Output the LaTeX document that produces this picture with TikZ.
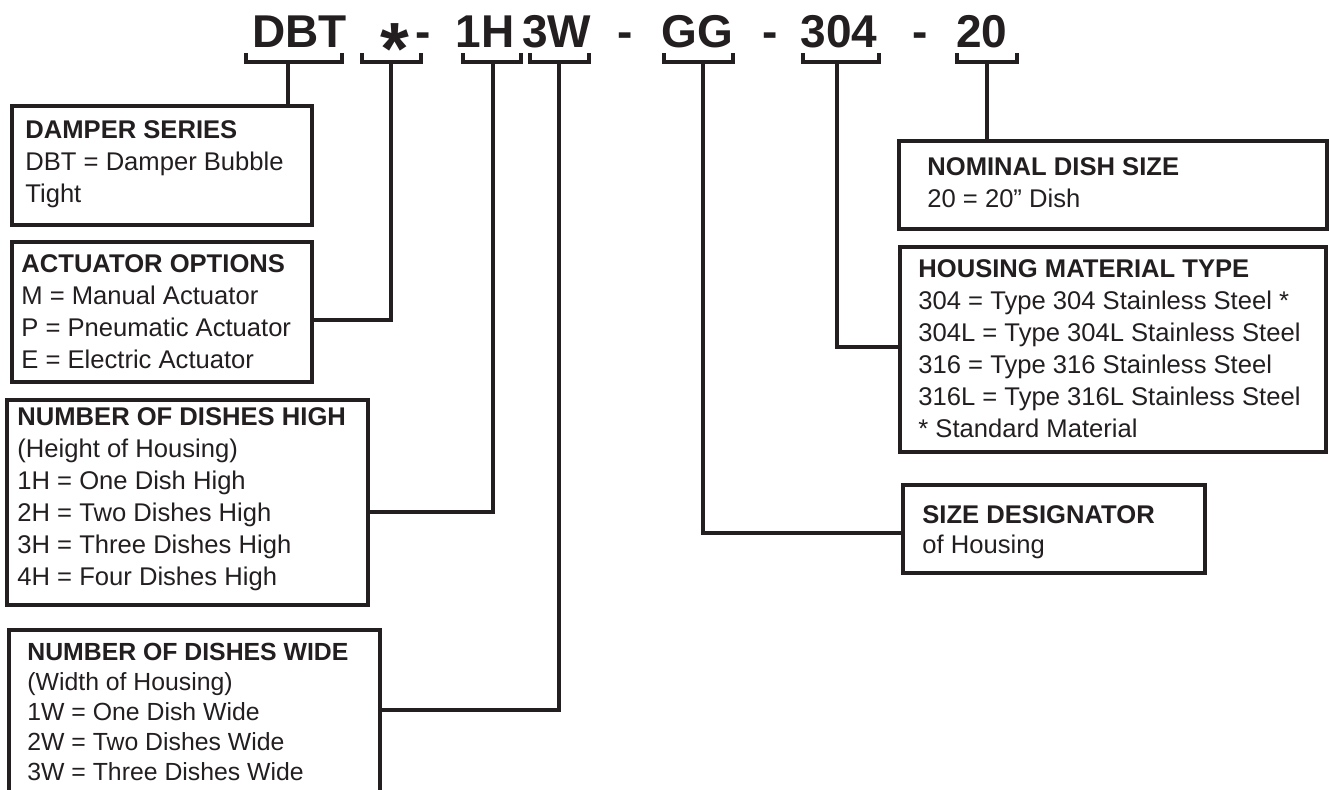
\documentclass[tikz,border=0pt]{standalone}
\usepackage{fontspec}
\setmainfont{Liberation Sans}
\definecolor{ink}{HTML}{231F20}
\tikzset{
  code/.style={font=\bfseries\fontsize{23}{23}\selectfont, text=ink, inner sep=0pt, anchor=base},
  clamp/.style={draw=ink, line width=2.3pt},
  link/.style={draw=ink, line width=2pt},
  panel/.style={draw=ink, line width=2.4pt, inner sep=0pt, outer sep=0pt, anchor=north west},
  entry/.style={font=\fontsize{12.8}{16}\selectfont, text=ink, align=left, inner sep=0pt, anchor=base west},
}
\begin{document}
\begin{tikzpicture}[x=0.5pt,y=-0.5pt]
        \clip (0,0) rectangle (1330,789);
        % model code
        \node[code] (cDBT) at (299.5,47) {DBT};
        \node[code, font=\bfseries\fontsize{37}{37}\selectfont] (cStar) at (394.5,74) {*};
        \node[code] (d1) at (423.5,47) {-};
        \node[code] (c1H) at (485,47) {1H};
        \node[code] (c3W) at (556.5,47) {3W};
        \node[code] (d2) at (625,47) {-};
        \node[code] (cGG) at (697,47) {GG};
        \node[code] (d3) at (770,47) {-};
        \node[code] (c304) at (839,47) {304};
        \node[code] (d4) at (920,47) {-};
        \node[code] (c20) at (982,47) {20};
        \foreach \lft/\rgt/\mid/\nm in {246/342/288/DBT,362/421/391/Star,463/521/493/1H,530/589/559/3W,664/733/703/GG,803/879/837/304,957/1017/987/20} {
            \draw[clamp] (\lft,53) -- (\lft,62) -- (\rgt,62) -- (\rgt,53);
            \coordinate (b\nm) at (\mid,62);
          }
        % left column (text nodes sit on their last baseline)
        \node[panel, minimum width=150pt, minimum height=59.5pt] (damper) at (12,106) {};
        \node[entry] (damperTxt) at ([shift={(6.5pt,-48pt)}]damper.north west) {\textbf{DAMPER SERIES}\\DBT = Damper Bubble\\Tight};
        \node[panel, minimum width=150pt, minimum height=70pt] (act) at (12,242) {};
        \node[entry] (actTxt) at ([shift={(4.5pt,-63pt)}]act.north west) {\textbf{ACTUATOR OPTIONS}\\M = Manual Actuator\\P = Pneumatic Actuator\\E = Electric Actuator};
        \node[panel, minimum width=180.5pt, minimum height=102.5pt] (high) at (7,400) {};
        \node[entry] (highTxt) at ([shift={(5pt,-92.5pt)}]high.north west) {\textbf{NUMBER OF DISHES HIGH}\\(Height of Housing)\\1H = One Dish High\\2H = Two Dishes High\\3H = Three Dishes High\\4H = Four Dishes High};
        \node[panel, minimum width=185.5pt, minimum height=100pt] (wide) at (9,630) {};
        \node[entry, font=\fontsize{12.4}{14.9}\selectfont] (wideTxt) at ([shift={(9pt,-75pt)}]wide.north west) {\textbf{NUMBER OF DISHES WIDE}\\(Width of Housing)\\1W = One Dish Wide\\2W = Two Dishes Wide\\3W = Three Dishes Wide};
        % right column
        \node[panel, minimum width=214pt, minimum height=44pt] (nominal) at (899,141) {};
        \node[entry] (nominalTxt) at ([shift={(14pt,-33pt)}]nominal.north west) {\textbf{NOMINAL DISH SIZE}\\20 = 20” Dish};
        \node[panel, minimum width=213pt, minimum height=102.5pt] (housing) at (900,247) {};
        \node[entry] (housingTxt) at ([shift={(9pt,-95pt)}]housing.north west) {\textbf{HOUSING MATERIAL TYPE}\\304 = Type 304 Stainless Steel *\\304L = Type 304L Stainless Steel\\316 = Type 316 Stainless Steel\\316L = Type 316L Stainless Steel\\* Standard Material};
        \node[panel, minimum width=151pt, minimum height=44pt] (size) at (903,485) {};
        \node[entry, font=\fontsize{12.8}{15}\selectfont] (sizeTxt) at ([shift={(9.5pt,-34pt)}]size.north west) {\textbf{SIZE DESIGNATOR}\\of Housing};
        % leaders
        \draw[link] (bDBT) -- (damper.north -| bDBT);
        \draw[link] (bStar) |- (act.east |- 0,320);
        \draw[link] (b1H) |- (high.east |- 0,512);
        \draw[link] (b3W) |- (wide.east |- 0,710);
        \draw[link] (bGG) |- (size.west |- 0,533);
        \draw[link] (b304) |- (housing.west |- 0,347);
        \draw[link] (b20) -- (nominal.north -| b20);
      \end{tikzpicture}
\end{document}
